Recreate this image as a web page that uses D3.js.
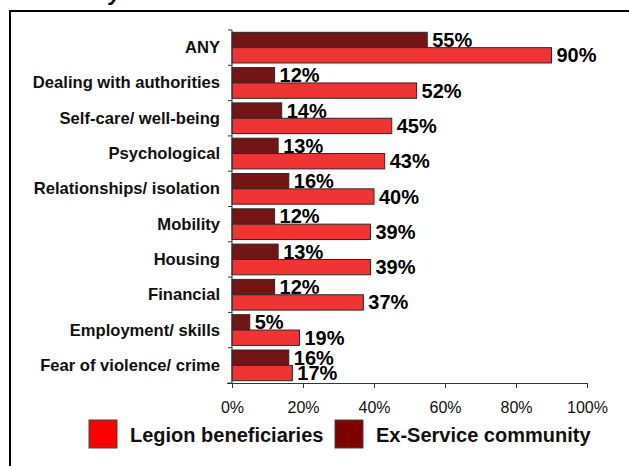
<!DOCTYPE html>
<html>
<head>
<meta charset="utf-8">
<script src="https://cdn.jsdelivr.net/npm/d3@7"></script>
<style>
  body { margin: 0; background: #fff; }
  svg { display: block; font-family: Arial, "Liberation Sans", sans-serif; }
</style>
</head>
<body>
<div id="chart"></div>
<script>
// chart data
const categories = [
  "ANY",
  "Dealing with authorities",
  "Self-care/ well-being",
  "Psychological",
  "Relationships/ isolation",
  "Mobility",
  "Housing",
  "Financial",
  "Employment/ skills",
  "Fear of violence/ crime"
];
const exService = [55, 12, 14, 13, 16, 12, 13, 12, 5, 16];
const legion = [90, 52, 45, 43, 40, 39, 39, 37, 19, 17];
const seriesNames = ["Legion beneficiaries", "Ex-Service community"];
const xTicks = [0, 20, 40, 60, 80, 100];

const width = 629, height = 466;
const margin = { top: 30, left: 232, right: 42, bottom: 83 };

const svg = d3.select("#chart").append("svg")
  .attr("width", width)
  .attr("height", height);

// frame round the chart (runs off the right and bottom edge)
svg.append("path")
  .attr("d", `M10,${height + 5} L10,11 L${width + 5},11`)
  .attr("fill", "none")
  .attr("stroke", "#000")
  .attr("stroke-width", 2);

// tail of the cut-off title
svg.append("text")
  .attr("x", 109)
  .attr("y", 0)
  .style("font", "italic bold 22px Arial")
  .text("y");

const x = d3.scaleLinear()
  .domain([0, 100])
  .range([margin.left, width - margin.right]);

const y = d3.scaleBand()
  .domain(categories)
  .range([margin.top, height - margin.bottom])
  .paddingInner(0)
  .paddingOuter(0);

// two bars per band, dark on top
const inner = d3.scaleBand()
  .domain(["ex", "legion"])
  .range([0, y.bandwidth()])
  .paddingOuter(0.15)
  .paddingInner(0);

const rows = categories.map((c, i) => ({ c, ex: exService[i], legion: legion[i] }));

const barColors = { ex: "#741515", legion: "#F03434" };

["ex", "legion"].forEach(key => {
  svg.selectAll(`.bar-${key}`)
    .data(rows)
    .enter().append("rect")
    .attr("class", `bar-${key}`)
    .attr("x", x(0))
    .attr("y", d => y(d.c) + inner(key))
    .attr("width", d => x(d[key]) - x(0))
    .attr("height", inner.bandwidth())
    .attr("fill", barColors[key])
    .attr("stroke", "#2a2a2a")
    .attr("stroke-width", 1);

  svg.selectAll(`.lbl-${key}`)
    .data(rows)
    .enter().append("text")
    .attr("class", `lbl-${key}`)
    .attr("x", d => x(d[key]) + 5)
    .attr("y", d => y(d.c) + inner(key) + inner.bandwidth() / 2 + 7)
    .style("font", "bold 20px Arial")
    .style("fill", "#000")
    .text(d => d[key] + "%");
});

// y axis: ticks at the band edges
const yAxisG = svg.append("g");
yAxisG.append("line")
  .attr("x1", x(0)).attr("x2", x(0))
  .attr("y1", margin.top).attr("y2", height - margin.bottom)
  .attr("stroke", "#333");
const edges = categories.map(c => y(c)).concat([height - margin.bottom]);
yAxisG.selectAll(".ytick")
  .data(edges)
  .enter().append("line")
  .attr("x1", x(0) - 4).attr("x2", x(0))
  .attr("y1", d => d).attr("y2", d => d)
  .attr("stroke", "#333");

svg.selectAll(".cat")
  .data(categories)
  .enter().append("text")
  .attr("x", 220)
  .attr("y", d => y(d) + y.bandwidth() / 2 + 5.5)
  .attr("text-anchor", "end")
  .style("font", "bold 16.6px Arial")
  .style("fill", "#111")
  .text(d => d);

// x axis
const xAxis = d3.axisBottom(x)
  .tickValues(xTicks)
  .tickFormat(d => d + "%")
  .tickSize(5)
  .tickSizeOuter(0)
  .tickPadding(14);

const xg = svg.append("g")
  .attr("transform", `translate(0,${height - margin.bottom})`)
  .call(xAxis);
xg.select(".domain").attr("stroke", "#333").attr("d", `M${x(0) - 5},0.5H${x(100)}`);
xg.selectAll(".tick line").attr("stroke", "#333");
xg.selectAll(".tick text")
  .style("font", "16px Arial")
  .style("fill", "#111");

// legend
const legendItems = [
  { name: seriesNames[0], color: "#FF0000", x: 89 },
  { name: seriesNames[1], color: "#800000", x: 335 }
];
const lg = svg.selectAll(".legend")
  .data(legendItems)
  .enter().append("g")
  .attr("transform", d => `translate(${d.x},420)`);
lg.append("rect")
  .attr("width", 28)
  .attr("height", 28)
  .attr("fill", d => d.color)
  .attr("stroke", "#444");
lg.append("text")
  .attr("x", 41)
  .attr("y", 22)
  .style("font", "bold 20px Arial")
  .style("fill", "#111")
  .text(d => d.name);
</script>
</body>
</html>
